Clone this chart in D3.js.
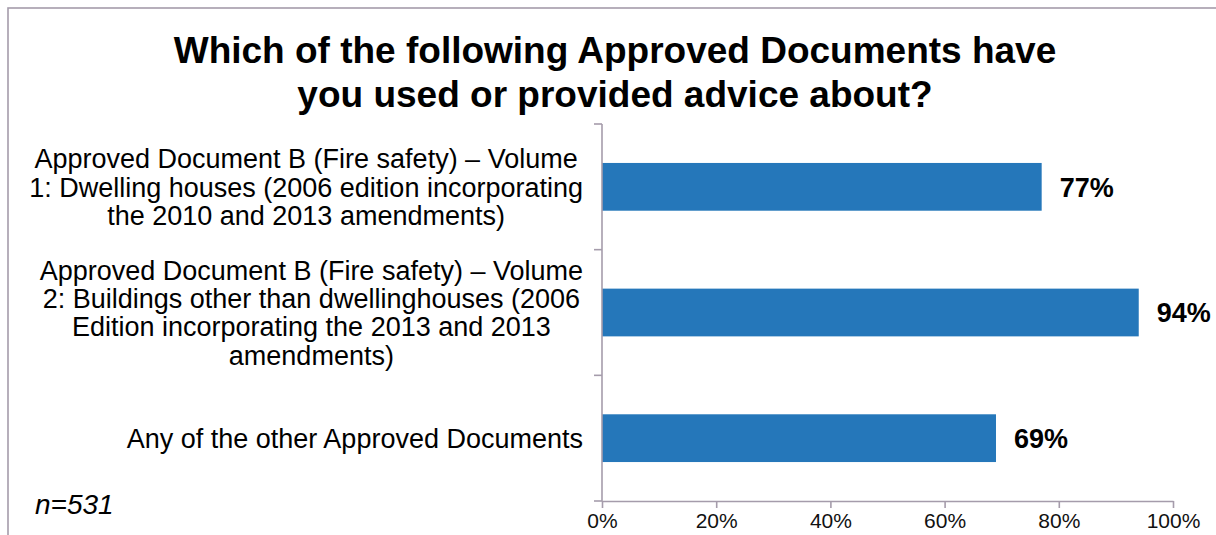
<!DOCTYPE html>
<html>
<head>
<meta charset="utf-8">
<script src="https://cdn.jsdelivr.net/npm/d3@7/dist/d3.min.js"></script>
<style>
  html, body { margin: 0; padding: 0; background: #fff; }
  svg { display: block; font-family: "Liberation Sans", Arial, sans-serif; }
</style>
</head>
<body>
<svg id="chart" width="1216" height="535"></svg>
<script>
// Survey question and answers
const titleLines = ["Which of the following Approved Documents have", "you used or provided advice about?"];
const categories = [
  ["Approved Document B (Fire safety) \u2013 Volume", "1: Dwelling houses (2006 edition incorporating", "the 2010 and 2013 amendments)"],
  ["Approved Document B (Fire safety) \u2013 Volume", "2: Buildings other than dwellinghouses (2006", "Edition incorporating the 2013 and 2013", "amendments)"],
  ["Any of the other Approved Documents"]
];
const values = [77, 94, 69];
const xTicks = [0, 20, 40, 60, 80, 100];
const sampleNote = "n=531";

const W = 1216, H = 535;
const plot = { left: 602, right: 1173, top: 124, bottom: 501 };
const axisColor = "#a59cab";
const barColor = "#2577ba";

const svg = d3.select("#chart");

// outer frame of the chart area
svg.append("rect")
  .attr("x", 8).attr("y", 8)
  .attr("width", W + 20).attr("height", H + 20)
  .attr("fill", "none").attr("stroke", axisColor).attr("stroke-width", 1.6);

// title
const title = svg.append("text")
  .attr("text-anchor", "middle")
  .attr("font-weight", "bold")
  .attr("font-size", 37)
  .attr("fill", "#000");
titleLines.forEach((t, i) => {
  title.append("tspan").attr("x", 615).attr("y", 63 + i * 44).text(t);
});

const x = d3.scaleLinear().domain([0, 100]).range([plot.left, plot.right]);
const y = d3.scaleBand()
  .domain(d3.range(categories.length))
  .range([plot.top, plot.bottom])
  .paddingInner(0.62)
  .paddingOuter(0.31);

// bars
svg.append("g").selectAll("rect")
  .data(values)
  .join("rect")
  .attr("x", x(0))
  .attr("y", (d, i) => y(i))
  .attr("width", d => x(d) - x(0))
  .attr("height", y.bandwidth())
  .attr("fill", barColor);

// value labels
svg.append("g").selectAll("text")
  .data(values)
  .join("text")
  .attr("x", d => x(d) + 18)
  .attr("y", (d, i) => y(i) + y.bandwidth() / 2 + 9.7)
  .attr("font-size", 27)
  .attr("font-weight", "bold")
  .attr("fill", "#000")
  .text(d => d + "%");

// x axis
const xAxis = svg.append("g")
  .attr("transform", `translate(0,${plot.bottom})`)
  .call(d3.axisBottom(x).tickValues(xTicks).tickFormat(d => d + "%").tickSize(7).tickSizeOuter(0));
xAxis.select(".domain").attr("stroke", axisColor).attr("stroke-width", 1.6);
xAxis.selectAll(".tick line").attr("stroke", axisColor).attr("stroke-width", 1.6);
xAxis.selectAll(".tick text")
  .attr("font-size", 21)
  .attr("font-family", "Liberation Sans, Arial, sans-serif")
  .attr("fill", "#111")
  .attr("dy", null)
  .attr("y", 27);

// y axis: ticks at the category boundaries
const bounds = d3.range(categories.length + 1).map(i => plot.top + i * (plot.bottom - plot.top) / categories.length);
const yAxisG = svg.append("g");
yAxisG.append("line")
  .attr("x1", plot.left).attr("x2", plot.left)
  .attr("y1", plot.top).attr("y2", plot.bottom)
  .attr("stroke", axisColor).attr("stroke-width", 1.6);
yAxisG.selectAll("line.tk")
  .data(bounds)
  .join("line")
  .attr("class", "tk")
  .attr("x1", plot.left - 8).attr("x2", plot.left)
  .attr("y1", d => d).attr("y2", d => d)
  .attr("stroke", axisColor).attr("stroke-width", 1.6);

// category labels: wrapped lines centred within a block right-aligned to the axis
const labelRight = 583, lineH = 28.3, capH = 19.5;
const labels = svg.append("g").attr("font-size", 27).attr("fill", "#000");
categories.forEach((lines, i) => {
  const cy = y(i) + y.bandwidth() / 2;
  const t = labels.append("text").attr("text-anchor", "middle");
  const spans = lines.map(ln => t.append("tspan").text(ln));
  const maxW = d3.max(spans, s => s.node().getComputedTextLength());
  const cx = labelRight - maxW / 2;
  const firstBase = cy - ((lines.length - 1) * lineH - capH) / 2;
  spans.forEach((s, j) => s.attr("x", cx).attr("y", firstBase + j * lineH));
});

// sample size note
svg.append("text")
  .attr("x", 35).attr("y", 514)
  .attr("font-size", 28)
  .attr("font-style", "italic")
  .attr("fill", "#000")
  .text(sampleNote);
</script>
</body>
</html>
